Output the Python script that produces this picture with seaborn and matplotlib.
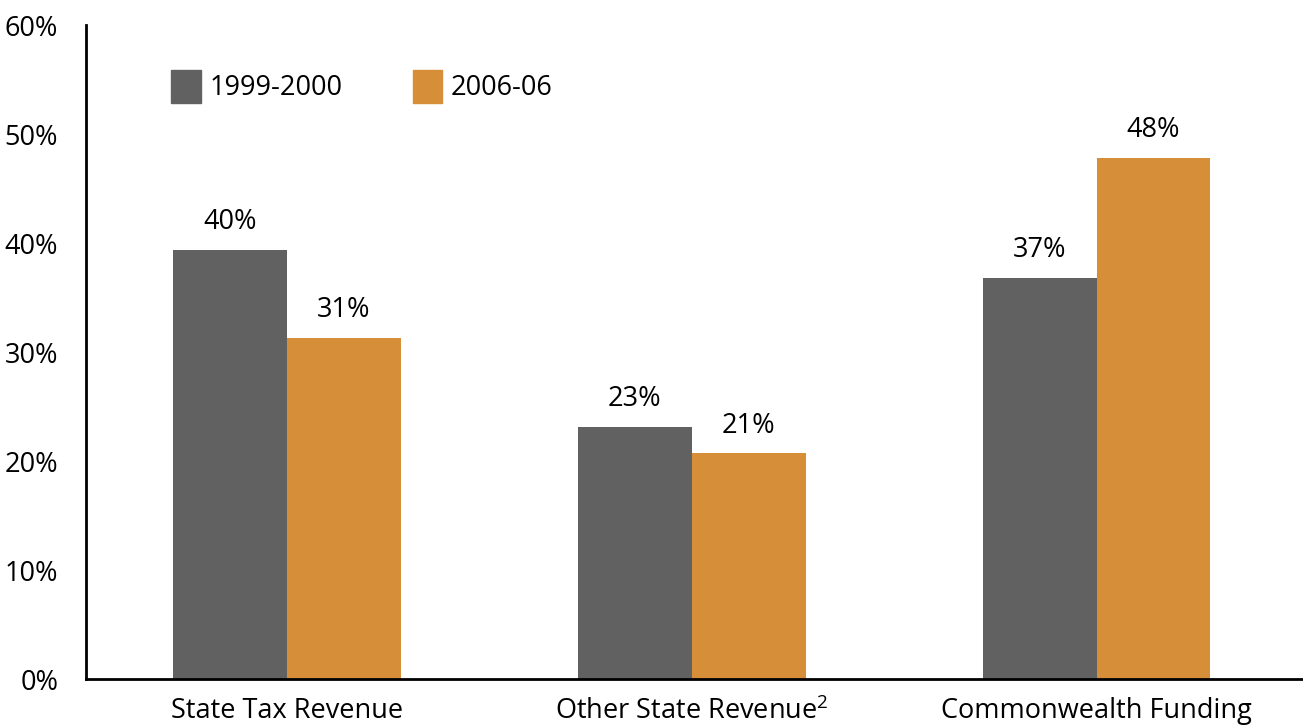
import matplotlib.pyplot as plt
import numpy as np
import pandas as pd
import seaborn as sns
from matplotlib.patches import Patch

categories = ["State Tax Revenue", "Other State Revenue$^{2}$", "Commonwealth Funding"]
years = ["1999-2000", "2006-06"]
share_1999 = [39.4, 23.1, 36.8]
share_2006 = [31.3, 20.7, 47.8]
labels_1999 = ["40%", "23%", "37%"]
labels_2006 = ["31%", "21%", "48%"]
yticks = [0, 10, 20, 30, 40, 50, 60]

colors = {"1999-2000": "#616161", "2006-06": "#D78E38"}


def main():
    df = pd.DataFrame({
        "category": categories * 2,
        "year": [years[0]] * 3 + [years[1]] * 3,
        "share": share_1999 + share_2006,
        "label": labels_1999 + labels_2006,
    })

    sns.set_style("white")
    plt.rcParams["font.family"] = ["Open Sans", "DejaVu Sans"]
    plt.rcParams["mathtext.fontset"] = "custom"
    plt.rcParams["mathtext.rm"] = "Open Sans"
    plt.rcParams["text.color"] = "black"
    plt.rcParams["xtick.color"] = "black"
    plt.rcParams["ytick.color"] = "black"

    fs = 19.5

    fig = plt.figure(figsize=(13.03, 7.27), dpi=100)
    ax = fig.add_axes([0.066, 0.066, 0.934, 0.8995])

    sns.barplot(
        data=df, x="category", y="share", hue="year",
        hue_order=years, order=categories, palette=colors,
        width=0.563, saturation=1, linewidth=0, ax=ax, legend=False,
    )

    # value labels above bars
    for cont, yr in zip(ax.containers, years):
        labs = df[df["year"] == yr]["label"].tolist()
        ax.bar_label(cont, labels=labs, padding=10, fontsize=fs, color="black")

    ax.set_ylim(0, 60)
    ax.set_xlim(-0.496, 2.51)
    ax.set_yticks(yticks)
    ax.set_yticklabels([f"{v}%" for v in yticks], fontsize=fs)
    ax.tick_params(axis="x", labelsize=fs, length=0, pad=13, colors="black")
    ax.tick_params(axis="y", length=0, pad=20, colors="black")
    ax.set_xlabel("")
    ax.set_ylabel("")

    for s in ["top", "right"]:
        ax.spines[s].set_visible(False)
    for s in ["left", "bottom"]:
        ax.spines[s].set_linewidth(2)
        ax.spines[s].set_color("black")

    handles = [Patch(color=colors[y], label=y) for y in years]
    ax.legend(
        handles=handles, ncol=2, frameon=False, fontsize=fs,
        loc="upper left", bbox_to_anchor=(0.05, 0.969),
        handlelength=1.1, handleheight=1.5, handletextpad=0.3,
        columnspacing=2.6, labelcolor="black",
    )

    fig.savefig("out.png", dpi=100)
    plt.close(fig)


if __name__ == "__main__":
    main()
